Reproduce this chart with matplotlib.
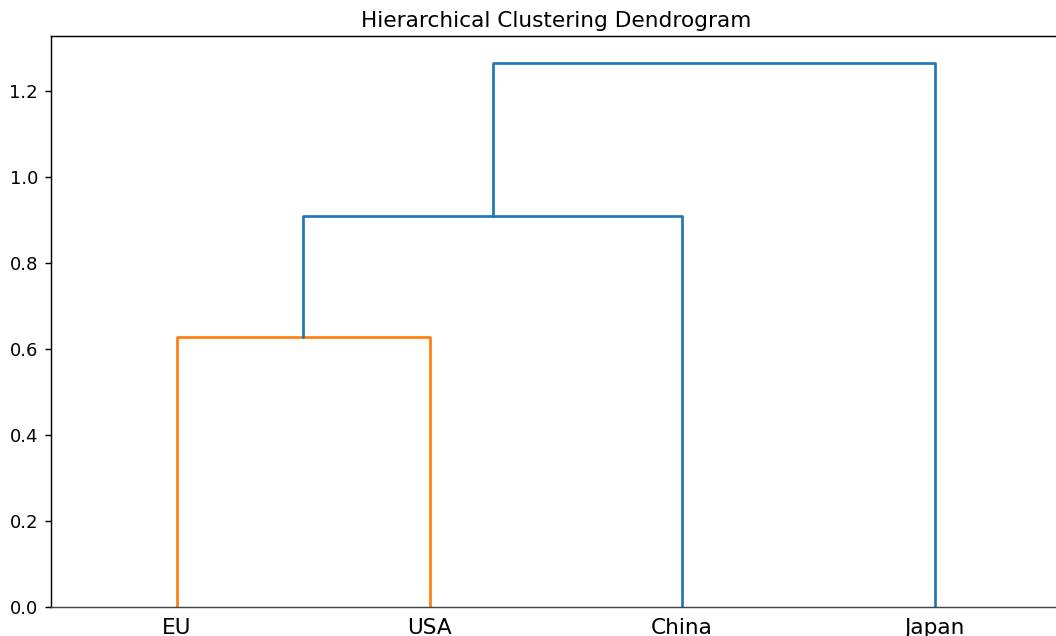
import matplotlib.pyplot as plt

labels = ['EU', 'USA', 'China', 'Japan']
# merges: (left node, right node, height); leaves are 0..3, new clusters 4, 5, 6
merges = [(0, 1, 0.627), (4, 2, 0.91), (5, 3, 1.265)]
colors = ['C1', 'C0', 'C0']

dpi = 130
fig = plt.figure(figsize=(1056 / dpi, 636 / dpi), dpi=dpi)
ax = fig.add_axes([50.6 / 1056, 29 / 636, 1010.4 / 1056, 571 / 636])

# leaf positions like scipy: 5, 15, 25, ...
xpos = {i: 5 + 10 * i for i in range(len(labels))}
ypos = {i: 0.0 for i in range(len(labels))}
for k, (a, b, h) in enumerate(merges):
    xa, xb = xpos[a], xpos[b]
    ax.plot([xa, xa, xb, xb], [ypos[a], h, h, ypos[b]], color=colors[k], lw=1.5)
    node = len(labels) + k
    xpos[node] = (xa + xb) / 2
    ypos[node] = h

ax.set_xlim(0, 10 * len(labels))
ax.set_ylim(0, max(m[2] for m in merges) * 1.05)
ax.set_xticks([5 + 10 * i for i in range(len(labels))])
ax.set_xticklabels(labels, fontsize=12)
ax.tick_params(axis='x', length=0, pad=6)
ax.spines['bottom'].set_color('#444444')
ax.set_title('Hierarchical Clustering Dendrogram', fontsize=12, pad=5)

fig.savefig('out.png', dpi=dpi)
